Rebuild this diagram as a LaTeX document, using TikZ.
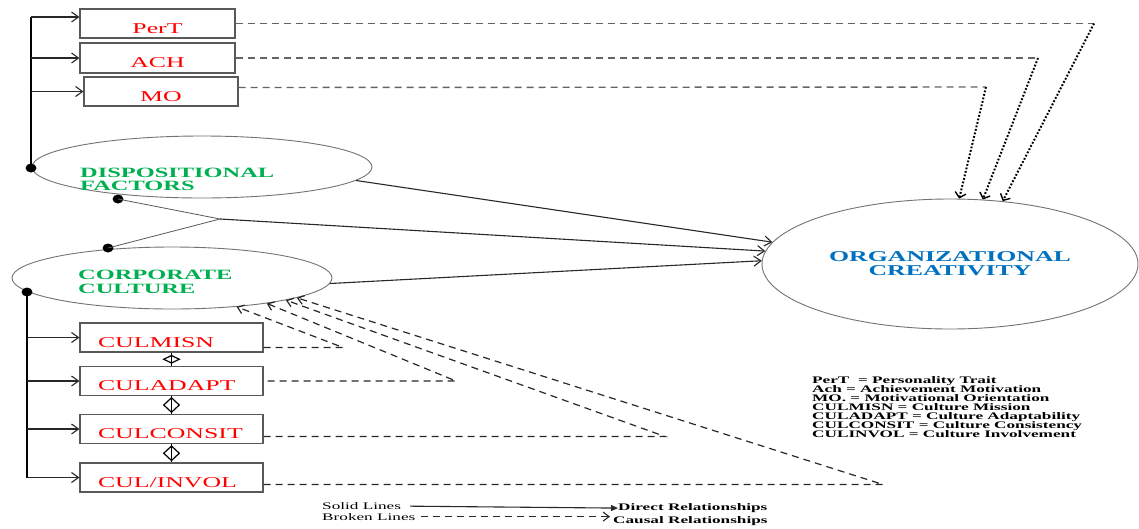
\documentclass[tikz,border=0pt]{standalone}
\usepackage{fontspec}
\setmainfont{Liberation Serif}[FakeStretch=1.72]
\usetikzlibrary{arrows.meta,shapes.geometric,calc}
\definecolor{boxred}{RGB}{255,0,0}
\definecolor{dgreen}{RGB}{0,176,80}
\definecolor{oblue}{RGB}{0,112,192}
\definecolor{tgray}{RGB}{100,100,100}
\definecolor{lgray}{RGB}{40,40,40}
\begin{document}
\begin{tikzpicture}[x=1pt,y=-1pt,
  varbox/.style={draw=black!65, line width=1.1pt, minimum width=155pt, minimum height=29pt,
    inner sep=0pt, text height=19.5pt, text depth=0pt, text=boxred, font=\fontsize{15}{17}\selectfont},
  culbox/.style={draw=black!65, line width=1.1pt, minimum height=29pt, inner ysep=0pt, inner xsep=18pt,
    text height=19.5pt, text depth=0pt, text=boxred, font=\fontsize{15}{17}\selectfont},
  latent/.style={draw=black!55, line width=0.9pt, ellipse, inner sep=0pt},
  gtext/.style={text=dgreen, font=\fontsize{14.2}{14}\selectfont\bfseries, inner sep=0pt, anchor=base west},
  dot/.style={ellipse, fill=black, minimum width=11pt, minimum height=9pt, inner sep=0pt},
  spine/.style={line width=1.5pt, draw=black},
  arr/.style={-{Straight Barb[length=7pt,width=10pt]}, line width=1.1pt, draw=lgray},
  link/.style={line width=0.8pt, draw=black!65},
  tdash/.style={draw=tgray, line width=1.4pt, dash pattern=on 7pt off 5pt},
  tdot/.style={draw=black, line width=2pt, dash pattern=on 1.8pt off 1.8pt, -{Straight Barb[length=5pt,width=11pt,line width=1.4pt]}},
  cdash/.style={draw=lgray, line width=1.2pt, dash pattern=on 7pt off 5pt, -{Straight Barb[length=6pt,width=9pt]}},
  bidir/.style={diamond, draw=black, line width=1.2pt, inner sep=0pt, minimum width=16pt, minimum height=15pt},
  ltext/.style={inner sep=0pt, anchor=base west, font=\fontsize{10}{10}\selectfont},
  ltextb/.style={inner sep=0pt, anchor=base west, font=\fontsize{10}{10}\selectfont\bfseries},
]
\fill[white] (0,0) rectangle (1139,528);
\useasboundingbox (0,0) rectangle (1139,528);

% observed variable boxes
\node[varbox] (pert) at (157.5,23.5) {PerT};
\node[varbox, minimum height=30pt] (ach) at (157.5,58) {ACH};
\node[varbox, minimum width=154pt] (mo) at (161,91.5) {MO};

\node[culbox] (culmisn) at (171.5,337.5) {\makebox[147pt][l]{CULMISN}};
\node[culbox] (culadapt) at (171.5,381) {\makebox[147pt][l]{CULADAPT}};
\node[culbox] (culconsit) at (171.5,429) {\makebox[147pt][l]{CULCONSIT}};
\node[culbox] (culinvol) at (171.5,477.5) {\makebox[147pt][l]{CUL/INVOL}};

% latent ellipses
\node[latent, minimum width=340pt, minimum height=62pt] (disp) at (202,167) {};
\node[latent, minimum width=320pt, minimum height=62pt] (corp) at (172,278) {};
\node[latent, minimum width=376pt, minimum height=130pt, align=center, text=oblue,
  font=\fontsize{15}{14}\selectfont\bfseries] (org) at (950,264) {ORGANIZATIONAL\\CREATIVITY};

\node[gtext] (dispA) at (80,177) {DISPOSITIONAL};
\node[gtext] (dispB) at (80,190) {FACTORS};
\node[gtext] (corpA) at (78,279.5) {CORPORATE};
\node[gtext] (corpB) at (78,293) {CULTURE};

% dots
\node[dot] (d1) at (31,168) {};
\node[dot] (d2) at (118,199) {};
\node[dot] (d3) at (108,248) {};
\node[dot] (d4) at (27,292) {};

\coordinate (t1) at (31,17);
\coordinate (j) at (220,219);

% upper spine
\draw[spine] (t1) -- (d1.center);
\draw[arr] (t1) -- (t1 -| pert.west);
\draw[arr] (ach.west -| t1) -- (ach.west);
\draw[arr] (mo.west -| t1) -- (mo.west);

% lower spine
\draw[spine] (d4.center) -- (culinvol.west -| d4);
\draw[arr] (culmisn.west -| d4) -- (culmisn.west);
\draw[arr] (culadapt.west -| d4) -- (culadapt.west);
\draw[arr] (culconsit.west -| d4) -- (culconsit.west);
\draw[arr] (culinvol.west -| d4) -- (culinvol.west);

% bidirectional symbols
\draw[line width=1.2pt] (culmisn.south) -- (culadapt.north)
  node[midway, bidir, minimum width=16pt, minimum height=8pt] (bd1) {};
\draw[line width=1.2pt] (culadapt.south) -- (culconsit.north)
  node[midway, bidir] (bd2) {};
\draw[line width=1.2pt] (culconsit.south) -- (culinvol.north)
  node[midway, bidir] (bd3) {};

% direct relationships to creativity
\draw[link] (d2.center) -- (j) -- (d3.center);
\draw[arr] (disp.355.2) -- (org.173.3);
\draw[arr] (j) -- (org.176.3);
\draw[arr] (corp.358.2) -- (org.179.1);

% causal (top)
\coordinate (c1) at (1094,24);
\coordinate (c2) at (1038,57);
\coordinate (c3) at (986,87);
\draw[tdash] (pert.east) -- (pert.east -| c1);
\draw[tdot] (pert.east -| c1) -- (org.50.2);
\draw[tdash] (ach.east) -- (ach.east -| c2);
\draw[tdot] (ach.east -| c2) -- (org.63.8);
\draw[tdash] ($(mo.east)+(0,-4)$) -- (c3);
\draw[tdot] (c3) -- (org.82.7);

% causal (bottom)
\coordinate (k1) at (343,347.5);
\coordinate (k2) at (456,381);
\coordinate (k3) at (665,436.5);
\coordinate (k4) at (883,484.5);
\draw[cdash] ($(culmisn.east)+(0,10)$) -- (k1) -- (corp.336.3);
\draw[cdash] ($(culadapt.east)+(4,0)$) -- (k2) -- (corp.345.7);
\draw[cdash] ($(culconsit.east)+(0,7.5)$) -- (k3) -- (corp.349.9);
\draw[cdash] ($(culinvol.east)+(0,7)$) -- (k4) -- (corp.351.4);

% abbreviations legend
\foreach \t [count=\i] in {PerT~~= Personality Trait, Ach = Achievement Motivation,
  MO. = Motivational Orientation, CULMISN = Culture Mission, CULADAPT = Culture Adaptability,
  CULCONSIT = Culture Consistency, CULINVOL = Culture Involvement}
  \node[ltextb] (leg\i) at (812,374+9*\i) {\t};

% line legend
\node[ltext] (solidT) at (322,509.5) {Solid Lines};
\node[ltext] (brokenT) at (322,520) {Broken Lines};
\node[ltextb] (directT) at (618,510.5) {Direct Relationships};
\node[ltextb] (causalT) at (613,523.5) {Causal Relationships};
\draw[line width=1.1pt, draw=lgray, -{Triangle[length=7pt,width=6pt]}, shorten <=9pt]
  (solidT.east) -- (directT.west);
\draw[line width=1.1pt, draw=lgray, dash pattern=on 7pt off 5pt, -{Straight Barb[length=6pt,width=9pt]}, shorten <=5pt, shorten >=3pt]
  (brokenT.east) -- (brokenT.east -| causalT.west);
\end{tikzpicture}
\end{document}
